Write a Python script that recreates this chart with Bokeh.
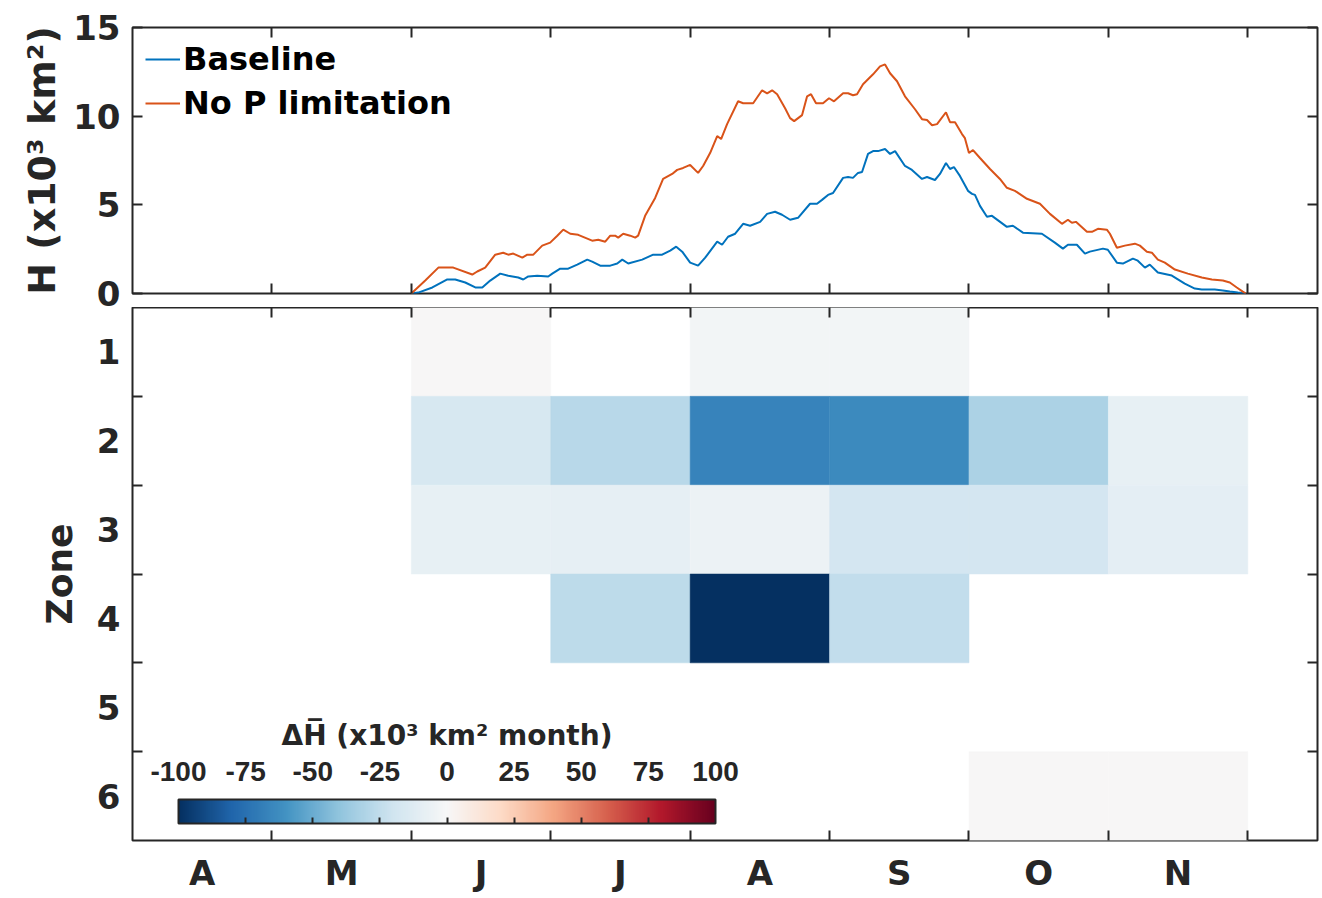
import numpy as np
from bokeh.plotting import figure
from bokeh.models import (ColumnDataSource, Range1d, FixedTicker, LinearAxis, Legend, LegendItem,
                          LinearColorMapper, ColorBar, CustomJSTickFormatter, Label)
from bokeh.transform import transform
from bokeh.layouts import column
from bokeh.embed import file_html
from bokeh.resources import INLINE

# ---------------- data ----------------
months = ["A", "M", "J", "J", "A", "S", "O", "N"]
zones = [1, 2, 3, 4, 5, 6]

# time in months since 1 April
base_t = [2.000, 2.050, 2.151, 2.258, 2.315, 2.387, 2.459, 2.509, 2.566, 2.638, 2.695, 2.767, 2.803,
          2.839, 2.903, 2.982, 3.011, 3.068, 3.125, 3.190, 3.262, 3.297, 3.355, 3.427, 3.477, 3.513,
          3.556, 3.656, 3.735, 3.799, 3.857, 3.900, 3.943, 4.000, 4.057, 4.108, 4.194, 4.229, 4.272,
          4.323, 4.380, 4.430, 4.502, 4.552, 4.609, 4.659, 4.717, 4.774, 4.860, 4.910, 4.946, 4.989,
          5.025, 5.097, 5.133, 5.168, 5.204, 5.233, 5.276, 5.312, 5.348, 5.398, 5.434, 5.470, 5.541,
          5.591, 5.663, 5.699, 5.756, 5.792, 5.835, 5.864, 5.892, 5.935, 5.993, 6.022, 6.043, 6.079,
          6.129, 6.165, 6.272, 6.315, 6.387, 6.523, 6.616, 6.674, 6.710, 6.774, 6.832, 6.867, 6.961,
          6.996, 7.061, 7.104, 7.176, 7.211, 7.262, 7.297, 7.355, 7.455, 7.548, 7.620, 7.670, 7.763,
          7.821, 7.871, 7.928, 7.986]
base_H = [0.00, 0.05, 0.34, 0.79, 0.79, 0.62, 0.34, 0.34, 0.73, 1.12, 1.00, 0.90, 0.79,
          0.96, 1.00, 0.96, 1.12, 1.40, 1.40, 1.63, 1.91, 1.80, 1.57, 1.57, 1.69, 1.91,
          1.69, 1.91, 2.19, 2.19, 2.42, 2.64, 2.36, 1.74, 1.57, 2.02, 2.92, 2.75, 3.20,
          3.37, 3.93, 3.82, 4.04, 4.49, 4.61, 4.44, 4.16, 4.27, 5.06, 5.06, 5.28, 5.56,
          5.67, 6.52, 6.57, 6.52, 6.80, 6.85, 7.87, 8.03, 8.03, 8.15, 7.87, 8.03, 7.19,
          6.97, 6.46, 6.57, 6.40, 6.74, 7.36, 7.02, 7.13, 6.63, 5.79, 5.62, 5.56, 4.94,
          4.33, 4.38, 3.76, 3.82, 3.43, 3.37, 2.87, 2.53, 2.75, 2.75, 2.25, 2.36, 2.53,
          2.47, 1.74, 1.69, 1.97, 1.85, 1.46, 1.63, 1.18, 1.01, 0.56, 0.28, 0.22, 0.22,
          0.17, 0.11, 0.05, 0.00]

nop_t = [2.000, 2.100, 2.194, 2.301, 2.437, 2.473, 2.530, 2.602, 2.659, 2.695, 2.731, 2.796, 2.832,
         2.875, 2.939, 2.996, 3.047, 3.090, 3.140, 3.197, 3.297, 3.341, 3.391, 3.427, 3.462, 3.484,
         3.520, 3.570, 3.606, 3.627, 3.677, 3.749, 3.806, 3.871, 3.907, 3.950, 4.000, 4.057, 4.093,
         4.143, 4.194, 4.222, 4.265, 4.344, 4.380, 4.452, 4.516, 4.552, 4.588, 4.624, 4.681, 4.717,
         4.746, 4.803, 4.839, 4.867, 4.903, 4.953, 4.996, 5.032, 5.097, 5.133, 5.168, 5.197, 5.240,
         5.312, 5.362, 5.398, 5.434, 5.484, 5.541, 5.613, 5.663, 5.699, 5.735, 5.771, 5.835, 5.864,
         5.900, 5.950, 5.971, 6.000, 6.029, 6.079, 6.151, 6.222, 6.272, 6.330, 6.416, 6.509, 6.581,
         6.667, 6.710, 6.738, 6.767, 6.846, 6.882, 6.925, 6.989, 7.011, 7.061, 7.118, 7.190, 7.226,
         7.276, 7.312, 7.355, 7.405, 7.477, 7.570, 7.670, 7.742, 7.821, 7.871, 7.921, 7.964, 7.986]
nop_H = [0.00, 0.73, 1.46, 1.46, 1.07, 1.24, 1.46, 2.19, 2.30, 2.19, 2.25, 2.02, 2.19,
         2.19, 2.70, 2.87, 3.26, 3.60, 3.37, 3.31, 2.98, 3.03, 2.92, 3.26, 3.26, 3.15,
         3.37, 3.26, 3.15, 3.26, 4.38, 5.39, 6.46, 6.74, 6.97, 7.08, 7.25, 6.80, 7.19,
         7.92, 8.88, 8.71, 9.55, 10.84, 10.73, 10.73, 11.46, 11.29, 11.46, 11.24, 10.45, 9.89,
         9.72, 10.06, 11.12, 11.24, 10.73, 10.73, 11.01, 10.84, 11.29, 11.29, 11.18, 11.24, 11.80,
         12.36, 12.81, 12.92, 12.42, 11.97, 11.12, 10.39, 9.83, 9.78, 9.49, 9.55, 10.22, 9.66,
         9.66, 8.99, 8.76, 7.92, 8.09, 7.64, 7.02, 6.46, 5.96, 5.79, 5.34, 5.06, 4.49,
         3.93, 4.16, 3.99, 4.04, 3.48, 3.48, 3.65, 3.60, 3.37, 2.58, 2.70, 2.81, 2.70,
         2.36, 2.30, 1.91, 1.74, 1.35, 1.12, 0.90, 0.79, 0.73, 0.62, 0.34, 0.11, 0.00]

# Delta H-bar (x10^3 km^2 month), rows = zones 1..6, columns = months A..N ; None = no data
dH = [
    [None, None,   0, None,   -3,   -3, None, None],
    [None, None, -17,  -28,  -67,  -64,  -32,   -8],
    [None, None,  -8,   -9,   -6,  -18,  -18,  -10],
    [None, None, None, -26, -100,  -25, None, None],
    [None, None, None, None, None, None, None, None],
    [None, None, None, None, None, None,    0,    0],
]
cbar_ticks = [-100, -75, -50, -25, 0, 25, 50, 75, 100]
cbar_title = "ΔH̅ (x10³ km² month)"

# ---------------- styles ----------------
AX = "#262626"
FONT = "DejaVu Sans"
C_BASE = "#0072BD"
C_NOP = "#D95319"
TICK_FS = "34px"

rdbu = ["#053061", "#2166ac", "#4393c3", "#92c5de", "#d1e5f0", "#f7f7f7",
        "#fddbc7", "#f4a582", "#d6604d", "#b2182b", "#67001f"]


def interp_palette(cols, n):
    rgb = np.array([[int(c[i:i + 2], 16) for i in (1, 3, 5)] for c in cols], dtype=float)
    pos = np.linspace(0, 1, len(cols))
    out = []
    for t in np.linspace(0, 1, n):
        r = [np.interp(t, pos, rgb[:, k]) for k in range(3)]
        out.append("#%02x%02x%02x" % tuple(int(round(v)) for v in r))
    return out


palette = interp_palette(rdbu, 256)
mapper = LinearColorMapper(palette=palette, low=-100, high=100)

x_range = Range1d(0, 8.5)
FRAME_W = 1185
LEFT = 132


def style_axis(ax):
    ax.axis_line_color = None
    ax.major_tick_line_color = AX
    ax.minor_tick_line_color = AX
    ax.major_tick_line_width = 2
    ax.minor_tick_line_width = 2
    ax.major_label_text_font = FONT
    ax.major_label_text_font_style = "bold"
    ax.major_label_text_font_size = TICK_FS
    ax.major_label_text_color = AX
    ax.axis_label_text_font = FONT
    ax.axis_label_text_font_style = "bold"
    ax.axis_label_text_color = AX


def tick_only_axis(ticks):
    # mirrored inward ticks with no labels (ticks given as minor ticks)
    a = LinearAxis(ticker=FixedTicker(ticks=[], minor_ticks=ticks))
    style_axis(a)
    a.major_label_standoff = 0
    a.major_tick_in = 0
    a.major_tick_out = 0
    a.minor_tick_in = 10
    a.minor_tick_out = 0
    return a


month_edges = list(range(1, 9))

# ---------------- top panel ----------------
top = figure(frame_width=FRAME_W, frame_height=266, x_range=x_range, y_range=Range1d(0, 15),
             output_backend="svg", toolbar_location=None,
             min_border_left=LEFT, min_border_right=3, min_border_top=27, min_border_bottom=14,
             x_axis_location=None, y_axis_location=None)
top.grid.visible = False
top.outline_line_color = AX
top.outline_line_width = 2

yl = LinearAxis(ticker=FixedTicker(ticks=[0, 5, 10, 15], minor_ticks=[]),
                axis_label="H (x10³ km²)")
style_axis(yl)
yl.major_tick_in = 10
yl.major_tick_out = 0
yl.major_label_standoff = 12
yl.major_label_text_line_height = 0.9
yl.axis_label_text_font_size = "38px"
yl.axis_label_standoff = 6
top.add_layout(yl, "left")
top.add_layout(tick_only_axis([0, 5, 10, 15]), "right")
top.add_layout(tick_only_axis(month_edges), "below")
top.add_layout(tick_only_axis(month_edges), "above")

r_base = top.line(base_t, base_H, line_color=C_BASE, line_width=2)
r_nop = top.line(nop_t, nop_H, line_color=C_NOP, line_width=2)

leg = Legend(items=[LegendItem(label="Baseline", renderers=[r_base]),
                    LegendItem(label="No P limitation", renderers=[r_nop])],
             location="top_left")
leg.label_text_font = FONT
leg.label_text_font_style = "bold"
leg.label_text_font_size = "32px"
leg.label_text_color = "black"
leg.glyph_width = 35
leg.label_standoff = 3
leg.spacing = 6
leg.padding = 0
leg.margin = 13
leg.border_line_color = None
leg.background_fill_alpha = 0
top.add_layout(leg)

# ---------------- bottom panel (heatmap) ----------------
cx, cy, cv = [], [], []
for zi, row in enumerate(dH):
    for mi, v in enumerate(row):
        if v is not None:
            cx.append(mi + 0.5)
            cy.append(zones[zi])
            cv.append(v)
src = ColumnDataSource(dict(x=cx, y=cy, v=cv))

bot = figure(frame_width=FRAME_W, frame_height=533, x_range=x_range, y_range=Range1d(6.5, 0.5),
             output_backend="svg", toolbar_location=None,
             min_border_left=LEFT, min_border_right=3, min_border_top=0, min_border_bottom=50,
             x_axis_location=None, y_axis_location=None)
bot.grid.visible = False
bot.outline_line_color = AX
bot.outline_line_width = 2

bot.rect(x="x", y="y", width=1, height=1, source=src,
         fill_color=transform("v", mapper), line_color=transform("v", mapper), line_width=0.5)

xb = LinearAxis(ticker=FixedTicker(ticks=[m + 0.5 for m in range(8)], minor_ticks=month_edges),
                formatter=CustomJSTickFormatter(args=dict(labels=months),
                                                code="return labels[Math.floor(tick)];"))
style_axis(xb)
xb.major_tick_in = 0
xb.major_tick_out = 0
xb.minor_tick_in = 10
xb.minor_tick_out = 0
xb.major_label_standoff = 12
bot.add_layout(xb, "below")

ylb = LinearAxis(ticker=FixedTicker(ticks=zones, minor_ticks=[z + 0.5 for z in zones[:-1]]),
                 axis_label="Zone")
style_axis(ylb)
ylb.major_tick_in = 0
ylb.major_tick_out = 0
ylb.minor_tick_in = 10
ylb.minor_tick_out = 0
ylb.major_label_standoff = 12
ylb.axis_label_text_font_size = "36px"
ylb.axis_label_standoff = 14
bot.add_layout(ylb, "left")
bot.add_layout(tick_only_axis([z + 0.5 for z in zones[:-1]]), "right")
bot.add_layout(tick_only_axis(month_edges), "above")

# colour bar: gradient bar with ticks
cb_bar = ColorBar(color_mapper=mapper, orientation="horizontal", width=537, height=24,
                  ticker=FixedTicker(ticks=[], minor_ticks=cbar_ticks[1:-1]),
                  label_standoff=0,
                  major_tick_line_color=None,
                  minor_tick_in=6, minor_tick_out=0, minor_tick_line_color=AX,
                  minor_tick_line_width=2,
                  bar_line_color=AX, bar_line_width=2,
                  padding=0, margin=0, background_fill_alpha=0,
                  location=(46, 17))
bot.add_layout(cb_bar)

# colour bar: tick labels (transparent bar)
cb_lab = ColorBar(color_mapper=mapper, orientation="horizontal", width=537, height=1,
                  ticker=FixedTicker(ticks=cbar_ticks, minor_ticks=[]),
                  formatter=CustomJSTickFormatter(
                      code="return tick < 0 ? '-' + Math.abs(tick) : String(tick);"),
                  scale_alpha=0, bar_line_color=None,
                  major_tick_line_color=None, minor_tick_line_color=None,
                  major_label_text_font="Liberation Sans", major_label_text_font_style="bold",
                  major_label_text_font_size="28px", major_label_text_color=AX,
                  label_standoff=2,
                  padding=0, margin=0, background_fill_alpha=0,
                  location=(46, 57))
bot.add_layout(cb_lab)

# colour bar title
bot.add_layout(Label(x=46 + 537 / 2, y=105, x_units="screen", y_units="screen",
                     text=cbar_title, text_align="center", text_baseline="middle",
                     text_font=FONT, text_font_style="bold", text_font_size="28px",
                     text_color=AX))

layout = column(top, bot, spacing=0)
open("out.html", "w").write(file_html(layout, INLINE))
